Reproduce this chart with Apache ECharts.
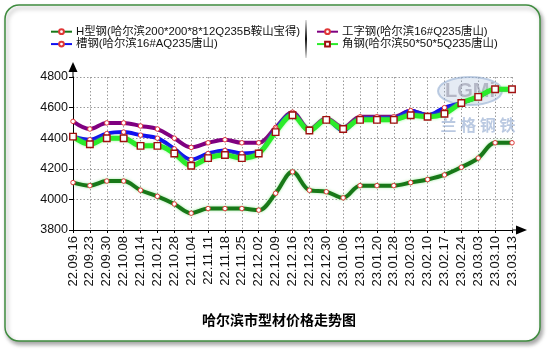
<!DOCTYPE html>
<html>
<head>
<meta charset="utf-8">
<script src="https://cdn.jsdelivr.net/npm/echarts@6/dist/echarts.min.js"></script>
<style>
html,body{margin:0;padding:0;background:#fff;}
#c{width:548px;height:351px;}
</style>
</head>
<body>
<div id="c"></div>
<script>
const categories = ['22.09.16','22.09.23','22.09.30','22.10.08','22.10.14','22.10.21','22.10.28','22.11.04','22.11.11','22.11.18','22.11.25','22.12.02','22.12.09','22.12.16','22.12.23','22.12.30','23.01.06','23.01.13','23.01.20','23.01.28','23.02.03','23.02.10','23.02.17','23.02.24','23.03.03','23.03.10','23.03.13'];
const hSteel = [4110,4090,4120,4120,4060,4020,3970,3910,3940,3940,3940,3930,4040,4180,4060,4050,4010,4090,4090,4090,4110,4130,4160,4210,4270,4370,4370];
const iBeam = [4510,4460,4500,4500,4480,4460,4400,4340,4370,4390,4370,4370,4470,4570,4460,4530,4470,4540,4540,4540,4580,4550,4590,4630,4670,4720,4720];
const channel = [4410,4390,4430,4440,4420,4400,4330,4260,4300,4320,4300,4310,4460,4560,4450,4520,4450,4530,4530,4530,4580,4550,4600,4630,4670,4720,4720];
const angle = [4410,4360,4400,4400,4350,4350,4300,4220,4270,4290,4270,4300,4440,4550,4450,4520,4460,4520,4520,4520,4550,4540,4560,4630,4670,4720,4720];
const yTicks = {min:3800, max:4800, interval:200};
const names = ['H型钢(哈尔滨200*200*8*12Q235B鞍山宝得)','工字钢(哈尔滨16#Q235唐山)','槽钢(哈尔滨16#AQ235唐山)','角钢(哈尔滨50*50*5Q235唐山)'];
const title = '哈尔滨市型材价格走势图';

const chart = echarts.init(document.getElementById('c'), null, {renderer:'canvas'});
const circ = {symbol:'circle', symbolSize:4.5, itemStyle:{color:'#fff', borderColor:'#e03838', borderWidth:1}};
function mk(name, data, color, extra){
  return Object.assign({
    name, type:'line', data, smooth:0.35, showAllSymbol:true,
    lineStyle:{color, width:4},
    emphasis:{disabled:true}
  }, circ, extra||{});
}
const legendText = {fontSize:11.4, color:'#111', padding:[0,0,0,-1], fontFamily:'"Liberation Sans", "Noto Sans CJK SC", sans-serif'};
const option = {
  animation:false,
  backgroundColor:'transparent',
  textStyle:{fontFamily:'"Noto Sans CJK SC", "Liberation Sans", sans-serif'},
  graphic:[
    {type:'rect', z:-10, shape:{x:5,y:5,width:535,height:336,r:14},
     style:{fill:'#fff', stroke:'#3f8c3f', lineWidth:1.5, shadowBlur:4, shadowOffsetX:2, shadowOffsetY:3, shadowColor:'rgba(0,0,0,0.35)'}},
    {type:'line', z:5, shape:{x1:306,y1:20,x2:306,y2:58},
     style:{stroke:new echarts.graphic.LinearGradient(0,0,0,1,[{offset:0,color:'rgba(0,0,0,0)'},{offset:0.5,color:'#111'},{offset:1,color:'rgba(0,0,0,0)'}]), lineWidth:2}},
    {type:'ellipse', z:1, shape:{cx:470,cy:91,rx:32,ry:14}, style:{fill:'rgba(150,175,210,0.25)', stroke:'rgba(150,175,210,0.6)', lineWidth:2}},
    {type:'text', z:1, style:{x:470,y:91,text:'LGMi',fill:'rgba(140,140,160,0.55)',font:'bold 20px "Liberation Sans"',align:'center',verticalAlign:'middle'}},
    {type:'text', z:1, style:{x:478,y:125,text:'兰 格 钢 铁',fill:'rgba(140,165,205,0.6)',font:'bold 16px "Noto Sans CJK SC"',align:'center',verticalAlign:'middle'}},
    {type:'line', z:5, shape:{x1:73,y1:77,x2:73,y2:68}, style:{stroke:'#000',lineWidth:1}},
    {type:'polygon', z:5, shape:{points:[[73,62],[68.5,72],[77.5,72]]}, style:{fill:'#000'}},
    {type:'line', z:5, shape:{x1:512,y1:230,x2:518,y2:230}, style:{stroke:'#000',lineWidth:1}},
    {type:'polygon', z:5, shape:{points:[[527,230],[516,225.5],[516,234.5]]}, style:{fill:'#000'}}
  ],
  title:{text:title, left:274, textAlign:'center', top:308,
    textStyle:{fontSize:14, fontWeight:'bold', color:'#000', fontFamily:'"Noto Sans CJK SC", sans-serif'}},
  legend:[
    {data:[names[0], names[2]], left:45, top:21, orient:'vertical', itemGap:1, itemWidth:21, itemHeight:6,
     textStyle:legendText},
    {data:[names[1], names[3]], left:311, top:21, orient:'vertical', itemGap:1, itemWidth:21, itemHeight:6,
     textStyle:legendText}
  ],
  grid:{left:73, right:36, top:77, bottom:121, containLabel:false},
  xAxis:{type:'category', data:categories, boundaryGap:false,
    axisLine:{lineStyle:{color:'#000', width:1}},
    axisTick:{show:true, alignWithLabel:true, length:3, lineStyle:{color:'#000'}},
    axisLabel:{rotate:90, margin:6, fontSize:13, color:'#111', fontFamily:'"Liberation Sans", Arial, sans-serif', interval:0},
    splitLine:{show:true, lineStyle:{color:'#9a9a9a', type:[1.5,2], width:1}}
  },
  yAxis:{type:'value', min:yTicks.min, max:yTicks.max, interval:yTicks.interval,
    axisLine:{show:true, lineStyle:{color:'#000', width:1}},
    axisTick:{show:true, length:4, lineStyle:{color:'#000'}},
    axisLabel:{fontSize:12.5, color:'#111', margin:5, fontFamily:'"Liberation Sans", Arial, sans-serif', formatter:v=>String(v)},
    splitLine:{show:true, lineStyle:{color:'#9a9a9a', type:[1.5,2], width:1}}
  },
  series:[
    mk(names[0], hSteel, '#187818', {lineStyle:{color:'#187818', width:4, shadowColor:'rgba(100,220,100,0.6)', shadowBlur:3}}),
    mk(names[1], iBeam, '#800080'),
    mk(names[2], channel, '#1010f0'),
    mk(names[3], angle, '#22ee22', {symbol:'rect', symbolSize:6.5,
      lineStyle:{color:'#2aec2a', width:5, shadowColor:'rgba(90,240,90,0.6)', shadowBlur:3},
      itemStyle:{color:'#fff', borderColor:'#a01010', borderWidth:1.4}})
  ]
};
chart.setOption(option);
</script>
</body>
</html>
